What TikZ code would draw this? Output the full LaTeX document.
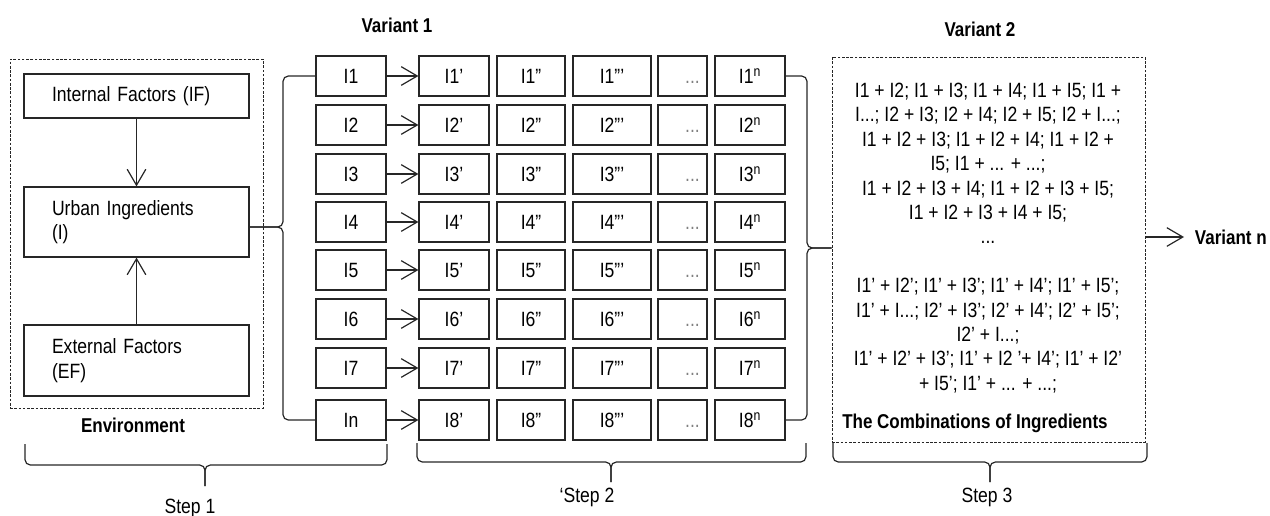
\documentclass[tikz,border=0pt]{standalone}
\usepackage{fontspec}
\setmainfont{Liberation Sans}[FakeStretch=0.85]
\usetikzlibrary{arrows.meta}

\begin{document}
\begin{tikzpicture}[x=0.75pt,y=-0.75pt,
        font=\fontsize{15.5}{18.3}\selectfont,
        >={Straight Barb[length=12pt,width=14pt]},
        box/.style={draw=black!85,line width=0.9pt,inner sep=0pt,
            minimum height=30pt,text height=11pt,text depth=0pt},
        sidebox/.style={draw=black!85,line width=0.9pt,inner xsep=21pt,
            text width=126.75pt,align=left,minimum width=168.75pt},
        dashbox/.style={draw=black!85,line width=0.7pt,
            dash pattern=on 2pt off 1.2pt},
        link/.style={draw=black!85,line width=0.9pt},
        bracket/.style={draw=black!85,line width=0.9pt,rounded corners=4pt},
        title/.style={font=\fontsize{15}{18}\selectfont\bfseries}]
    \useasboundingbox (0,0) rectangle (1270,515);

    % Step 1
    \node[dashbox,minimum width=189.75pt,minimum height=261.75pt] (env) at (136.5,233.5) {};
    \node[sidebox,minimum height=33pt] (if) at (136.5,96) {Internal Factors (IF)};
    \node[sidebox,minimum height=52.5pt] (urban) at (136.5,222) {Urban Ingredients\\(I)};
    \node[sidebox,minimum height=53.25pt] (ef) at (136.5,360.5) {External Factors\\(EF)};
    \node[title] (envlab) at (133,425) {Environment};
    \draw[link,->] (if) -- (urban);
    \draw[link,->] (ef) -- (urban);

    % Step 2
    \node[title] (var1) at (397,25) {Variant 1};
    \foreach \yy/\lab [count=\r] in {76/I1,125/I2,174/I3,222/I4,270/I5,319/I6,368/I7,420/In} {
        \node[box,minimum width=52.5pt] (i\r) at (351,\yy) {\lab};
        \node[box,minimum width=52.5pt] (a\r) at (454,\yy) {I\r'};
        \node[box,minimum width=51pt] (b\r) at (531,\yy) {I\r''};
        \node[box,minimum width=58.5pt] (c\r) at (612,\yy) {I\r'''};
        \node[box,minimum width=36.75pt] (d\r) at (682.5,\yy) {\hspace*{15pt}\textcolor{gray}{...}};
        \node[box,minimum width=52.5pt] (e\r) at (750,\yy) {I\r\textsuperscript{n}};
        \draw[link,->] (i\r.east) -- (a\r.west);
    }
    \coordinate (tipL) at (283,227);
    \draw[bracket] (urban.east |- tipL) -- (tipL) |- (i1.west);
    \draw[bracket] (urban.east |- tipL) -- (tipL) |- (i8.west);

    % Step 3
    \node[title] (var2) at (980,29) {Variant 2};
    \node[dashbox,minimum width=234.75pt,minimum height=288.75pt] (v2) at (988.5,249.5) {};
    \node[align=center,inner sep=0pt] (combos) at (988,238) {%
        I1 + I2; I1 + I3; I1 + I4; I1 + I5; I1 +\\
        I...; I2 + I3; I2 + I4; I2 + I5; I2 + I...;\\
        I1 + I2 + I3; I1 + I2 + I4; I1 + I2 +\\
        I5; I1 + ... + ...;\\
        I1 + I2 + I3 + I4; I1 + I2 + I3 + I5;\\
        I1 + I2 + I3 + I4 + I5;\\
        ...\\
        \mbox{}\\
        I1' + I2'; I1' + I3'; I1' + I4'; I1' + I5';\\
        I1' + I...; I2' + I3'; I2' + I4'; I2' + I5';\\
        I2' + I...;\\
        I1' + I2' + I3'; I1' + I2 '+ I4'; I1' + I2'\\
        + I5'; I1' + ... + ...;};
    \node[title,anchor=west,inner sep=0pt] (comblab) at (842,423) {The Combinations of Ingredients};
    \coordinate (tipR) at (807,248);
    \draw[bracket] (v2.west |- tipR) -- (tipR) |- (e1.east);
    \draw[bracket] (v2.west |- tipR) -- (tipR) |- (e8.east);
    \node[title,anchor=west,inner xsep=8pt] (varn) at (1184,237) {Variant n};
    \draw[link,->] (v2.east |- varn.west) -- (varn.west);

    % braces
    \coordinate (s1l) at (25,444);
    \coordinate (s1r) at (387,444);
    \coordinate (s1m) at (205,465);
    \coordinate (s1t) at (205,486);
    \draw[bracket] (s1l) |- (s1m) -- (s1t);
    \draw[bracket] (s1r) |- (s1m) -- (s1t);
    \node (step1) at (190,508) {Step 1};

    \coordinate (s2l) at (417,443);
    \coordinate (s2r) at (806,443);
    \coordinate (s2m) at (611,462);
    \coordinate (s2t) at (611,482);
    \draw[bracket] (s2l) |- (s2m) -- (s2t);
    \draw[bracket] (s2r) |- (s2m) -- (s2t);
    \node (step2) at (587,497) {`Step 2};

    \coordinate (s3l) at (833,443);
    \coordinate (s3r) at (1147,443);
    \coordinate (s3m) at (990,462);
    \coordinate (s3t) at (990,482);
    \draw[bracket] (s3l) |- (s3m) -- (s3t);
    \draw[bracket] (s3r) |- (s3m) -- (s3t);
    \node (step3) at (987,497) {Step 3};
\end{tikzpicture}
\end{document}
